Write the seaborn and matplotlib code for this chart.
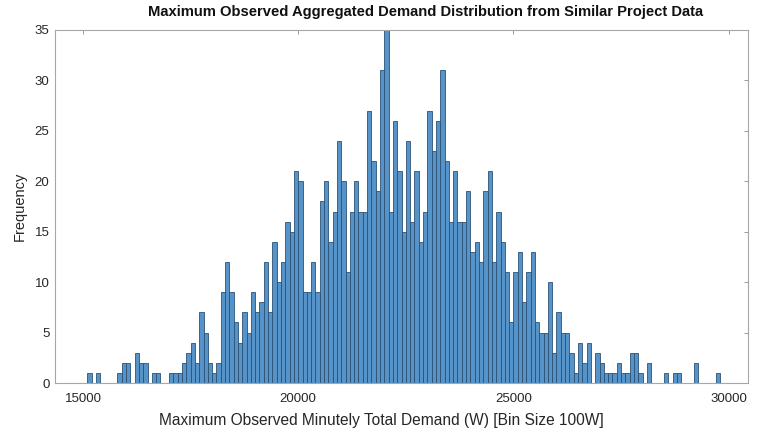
import numpy as np
import pandas as pd
import matplotlib
matplotlib.use("Agg")
import matplotlib.pyplot as plt
import seaborn as sns

# Histogram counts per 100 W bin (bin start values in W)
bin_starts = list(range(14400, 30400, 100))
counts = [
    0, 0, 0, 0, 0, 0, 0,                     # 14400-15000
    1, 0, 1, 0, 0, 0, 0,                     # 15100-15700
    1, 2, 2, 0, 3, 2, 2, 0, 1, 1, 0, 0,      # 15800-16900
    1, 1, 1, 2, 3, 4, 2, 7, 5, 2,            # 17000-17900
    1, 2, 9, 12, 9, 6, 4, 7, 5, 9,           # 18000-18900
    7, 8, 12, 7, 14, 10, 12, 16, 15, 21,     # 19000-19900
    20, 9, 9, 12, 9, 18, 20, 14, 17, 24,     # 20000-20900
    20, 11, 17, 20, 17, 17, 27, 22, 19, 31,  # 21000-21900
    35, 17, 26, 21, 15, 24, 16, 21, 14, 17,  # 22000-22900
    27, 23, 26, 31, 22, 16, 21, 16, 16, 19,  # 23000-23900
    13, 14, 12, 19, 21, 12, 17, 14, 11, 6,   # 24000-24900
    11, 13, 8, 11, 13, 6, 5, 5, 10, 3,       # 25000-25900
    7, 5, 5, 3, 1, 4, 2, 4, 0, 3,            # 26000-26900
    2, 1, 1, 1, 2, 1, 1, 3, 3, 1,            # 27000-27900
    0, 2, 0, 0, 0, 1, 0, 1, 1, 0,            # 28000-28900
    0, 0, 2, 0, 0, 0, 0, 1, 0, 0,            # 29000-29900
    0, 0, 0, 0,                              # 30000-30300
]
bin_width = 100
x_ticks = [15000, 20000, 25000, 30000]
y_ticks = [0, 5, 10, 15, 20, 25, 30, 35]

title = "Maximum Observed Aggregated Demand Distribution from Similar Project Data"
x_label = "Maximum Observed Minutely Total Demand (W) [Bin Size 100W]"
y_label = "Frequency"

sns.set_style("white")
plt.rcParams["font.family"] = ["Liberation Sans", "DejaVu Sans"]

df = pd.DataFrame({"demand": np.array(bin_starts) + bin_width / 2,
                   "count": counts})
edges = list(bin_starts) + [bin_starts[-1] + bin_width]

fig = plt.figure(figsize=(7.59, 4.34), dpi=100)
ax = fig.add_axes([0.0725, 0.1175, 0.913, 0.8135])

sns.histplot(data=df, x="demand", weights="count", bins=edges,
             color="#5593c8", edgecolor="#2c5275", linewidth=0.6,
             alpha=1.0, ax=ax)

ax.set_xlim(14350, 30450)
ax.set_ylim(0, 35)
ax.set_xticks(x_ticks)
ax.set_yticks(y_ticks)
ax.tick_params(axis="both", direction="in", length=3, width=0.6,
               color="#8c8c8c", labelsize=9.5, labelcolor="#262626",
               top=True, right=True, pad=4)
ax.tick_params(axis="x", pad=7)

for side in ["left", "right", "top", "bottom"]:
    ax.spines[side].set_visible(True)
    ax.spines[side].set_color("#a6a6a6")
    ax.spines[side].set_linewidth(0.8)

ax.set_title(title, fontsize=10.6, fontweight="bold", color="#111111",
             x=0.534, pad=10)
ax.set_xlabel(x_label, fontsize=11.2, color="#262626")
ax.xaxis.set_label_coords(0.471, -0.085)
ax.set_ylabel(y_label, fontsize=10.5, color="#262626", labelpad=6)

fig.savefig("out.png", dpi=100)
